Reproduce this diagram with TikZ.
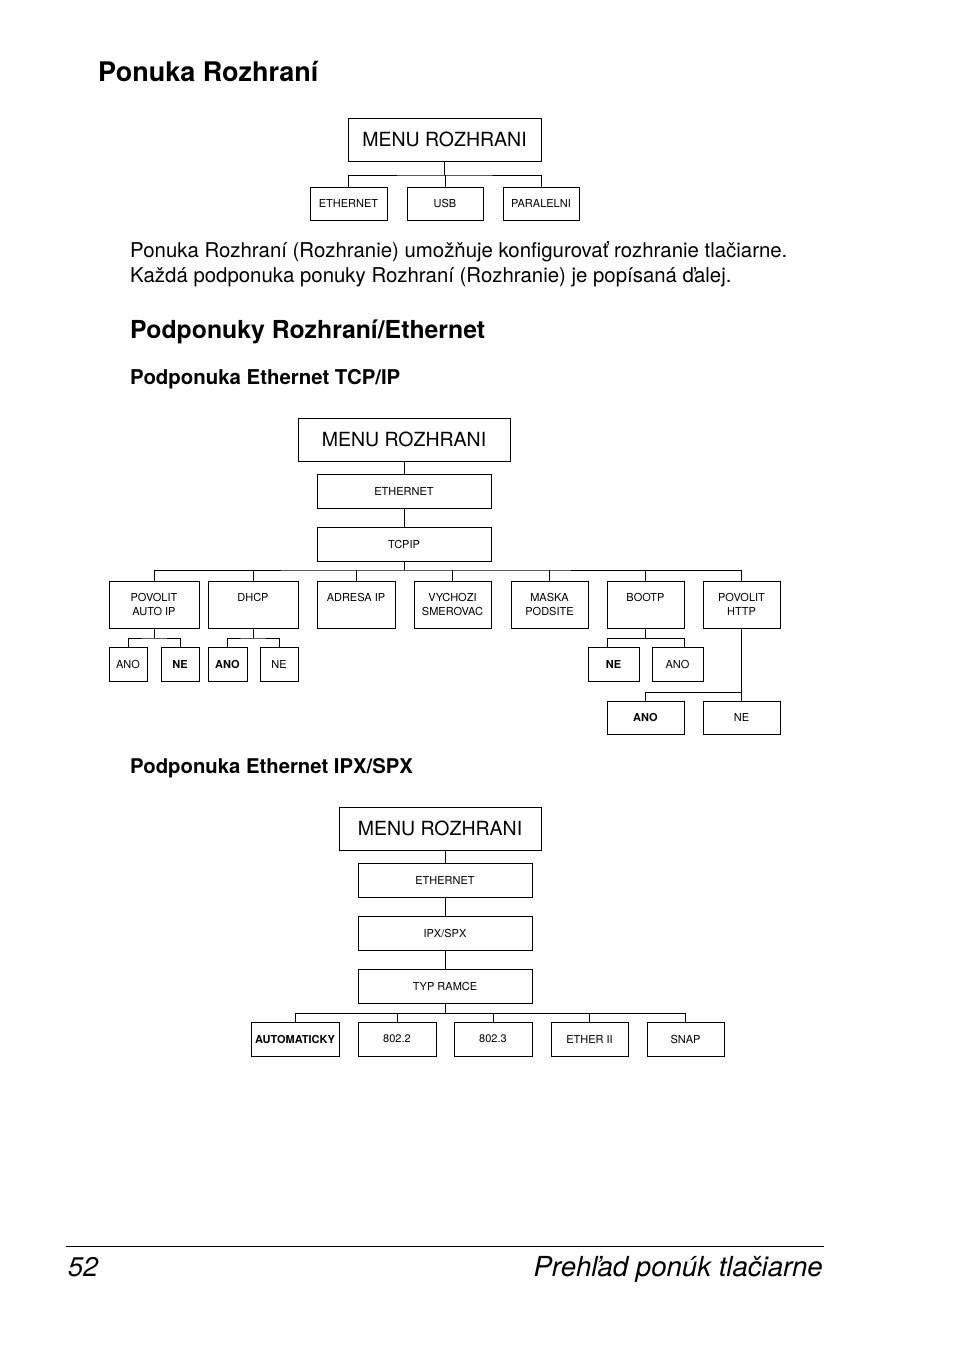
\documentclass[tikz,border=0pt]{standalone}
\usepackage{fontspec}
\setmainfont{TeX Gyre Heros}
\newcommand{\tbx}[3]{\parbox[c][#2][t]{#1}{\centering\rule{0pt}{20pt}#3}}
\tikzset{
  box/.style={draw, line width=1pt, rectangle, inner sep=0pt, outer sep=0pt, font=\fontsize{11}{14.5}\selectfont, align=center},
  boldbox/.style={box, font=\fontsize{11}{14.5}\selectfont\bfseries},
  bigbox/.style={box, font=\fontsize{19.5}{22}\selectfont},
  conn/.style={line width=1pt},
  txt/.style={anchor=base west, inner sep=0pt}
}
\begin{document}
\begin{tikzpicture}[x=1pt,y=-1pt]
\useasboundingbox (0,0) rectangle (954,1349);

% headings and text
\node[txt, font=\fontsize{27}{30}\selectfont\bfseries] (t1) at (98,81) {Ponuka Rozhraní};
\node[txt, font=\fontsize{20.4}{25}\selectfont] (p1) at (130,257) {Ponuka Rozhraní (Rozhranie) umožňuje konfigurovať rozhranie tlačiarne.};
\node[txt, font=\fontsize{20.4}{25}\selectfont] (p2) at (130,282) {Každá podponuka ponuky Rozhraní (Rozhranie) je popísaná ďalej.};
\node[txt, font=\fontsize{24.8}{28}\selectfont\bfseries] (t2) at (130,338) {Podponuky Rozhraní/Ethernet};
\node[txt, font=\fontsize{20.4}{22}\selectfont\bfseries] (t3) at (130,384) {Podponuka Ethernet TCP/IP};
\node[txt, font=\fontsize{20.3}{22}\selectfont\bfseries] (t4) at (130,773) {Podponuka Ethernet IPX/SPX};

% ---------- top diagram ----------
\node[bigbox, minimum width=193pt, minimum height=43pt] (m1) at (444.5,139.5) {MENU ROZHRANI};
\node[box, minimum width=77pt, minimum height=33pt] (e1) at (348.5,203.5) {ETHERNET};
\node[box, minimum width=76pt, minimum height=33pt] (u1) at (445,203.5) {USB};
\node[box, minimum width=76pt, minimum height=33pt] (l1) at (541,203.5) {PARALELNI};
\coordinate (j1) at (444.5,175);
\draw[conn] (m1.south) -- (j1);
\draw[conn] (e1.north) |- (j1) -| (l1.north);
\draw[conn] (u1.north) -- (u1.north |- j1);

% ---------- TCP/IP diagram ----------
\node[bigbox, minimum width=212pt, minimum height=43pt] (m2) at (404,439.5) {MENU ROZHRANI};
\node[box, minimum width=174pt, minimum height=34pt] (e2) at (404,491) {ETHERNET};
\node[box, minimum width=174pt, minimum height=34pt] (tcp) at (404,544) {TCPIP};
\draw[conn] (m2.south) -- (e2.north);
\draw[conn] (e2.south) -- (tcp.north);

\node[box] (pai) at (154,604.5) {\tbx{90pt}{47pt}{POVOLIT\\AUTO IP}};
\node[box] (dhcp) at (253,604.5) {\tbx{90pt}{47pt}{DHCP}};
\node[box] (adr) at (356,604.5) {\tbx{78pt}{47pt}{ADRESA IP}};
\node[box] (vych) at (452.5,604.5) {\tbx{77pt}{47pt}{VYCHOZI\\SMEROVAC}};
\node[box] (mask) at (549.5,604.5) {\tbx{77pt}{47pt}{MASKA\\PODSITE}};
\node[box] (boot) at (645.5,604.5) {\tbx{77pt}{47pt}{BOOTP}};
\node[box] (http) at (741.5,604.5) {\tbx{77pt}{47pt}{POVOLIT\\HTTP}};

\coordinate (j2) at (404,570);
\draw[conn] (tcp.south) -- (j2);
\draw[conn] (pai.north) |- (j2) -| (http.north);
\foreach \n in {dhcp,adr,vych,mask,boot}{
  \draw[conn] (\n.north) -- (\n.north |- j2);
}

% subnodes
\node[box, minimum width=38pt, minimum height=34pt] (a1) at (128,664) {ANO};
\node[boldbox, minimum width=38pt, minimum height=34pt] (n1) at (180,664) {NE};
\node[boldbox, minimum width=39pt, minimum height=34pt] (a2) at (227.5,664) {ANO};
\node[box, minimum width=38pt, minimum height=34pt] (n2) at (279,664) {NE};
\node[boldbox, minimum width=51pt, minimum height=34pt] (n3) at (613.5,664) {NE};
\node[box, minimum width=51pt, minimum height=34pt] (a3) at (677.5,664) {ANO};
\node[boldbox, minimum width=77pt, minimum height=33pt] (a4) at (645.5,717.5) {ANO};
\node[box, minimum width=77pt, minimum height=33pt] (n4) at (741.5,717.5) {NE};

\coordinate (k1) at (154,638);
\draw[conn] (pai.south) -- (k1);
\draw[conn] (a1.north) |- (k1) -| (n1.north);
\coordinate (k2) at (253,638);
\draw[conn] (dhcp.south) -- (k2);
\draw[conn] (a2.north) |- (k2) -| (n2.north);
\coordinate (k3) at (645.5,638);
\coordinate (k3l) at (607,638);
\coordinate (k3r) at (684,638);
\draw[conn] (boot.south) -- (k3);
\draw[conn] (k3l |- n3.north) -- (k3l) -- (k3r) -- (k3r |- a3.north);
\coordinate (k4) at (741.5,692);
\draw[conn] (http.south) -- (n4.north);
\draw[conn] (a4.north) |- (k4);

% ---------- IPX/SPX diagram ----------
\node[bigbox, minimum width=202pt, minimum height=43pt] (m3) at (440,828.5) {MENU ROZHRANI};
\node[box, minimum width=174pt, minimum height=34pt] (e3) at (445,880.5) {ETHERNET};
\node[box, minimum width=174pt, minimum height=34pt] (ipx) at (445,933.5) {IPX/SPX};
\node[box, minimum width=174pt, minimum height=34pt] (typ) at (445,986) {TYP RAMCE};
\draw[conn] (e3.north) -- (e3.north |- m3.south);
\draw[conn] (e3.south) -- (ipx.north);
\draw[conn] (ipx.south) -- (typ.north);

\node[boldbox, minimum width=88pt, minimum height=34pt] (auto) at (295,1039) {AUTOMATICKY};
\node[box, minimum width=78pt, minimum height=34pt] (f2) at (397,1039) {802.2};
\node[box, minimum width=78pt, minimum height=34pt] (f3) at (493,1039) {802.3};
\node[box, minimum width=77pt, minimum height=34pt] (eii) at (589.5,1039) {ETHER II};
\node[box, minimum width=77pt, minimum height=34pt] (snap) at (685.5,1039) {SNAP};
\coordinate (j3) at (445,1013);
\draw[conn] (typ.south) -- (j3);
\draw[conn] (auto.north) |- (j3) -| (snap.north);
\foreach \n in {f2,f3,eii}{
  \draw[conn] (\n.north) -- (\n.north |- j3);
}

% ---------- footer ----------
\coordinate (r1) at (66,1246);
\coordinate (r2) at (824,1246);
\draw[line width=1pt] (r1) -- (r2);
\node[txt, font=\fontsize{27}{30}\selectfont\itshape] (pg) at (68,1276) {52};
\node[anchor=base east, inner sep=0pt, font=\fontsize{27.6}{30}\selectfont\itshape] (ft) at (823,1276) {Prehľad ponúk tlačiarne};
\end{tikzpicture}
\end{document}
